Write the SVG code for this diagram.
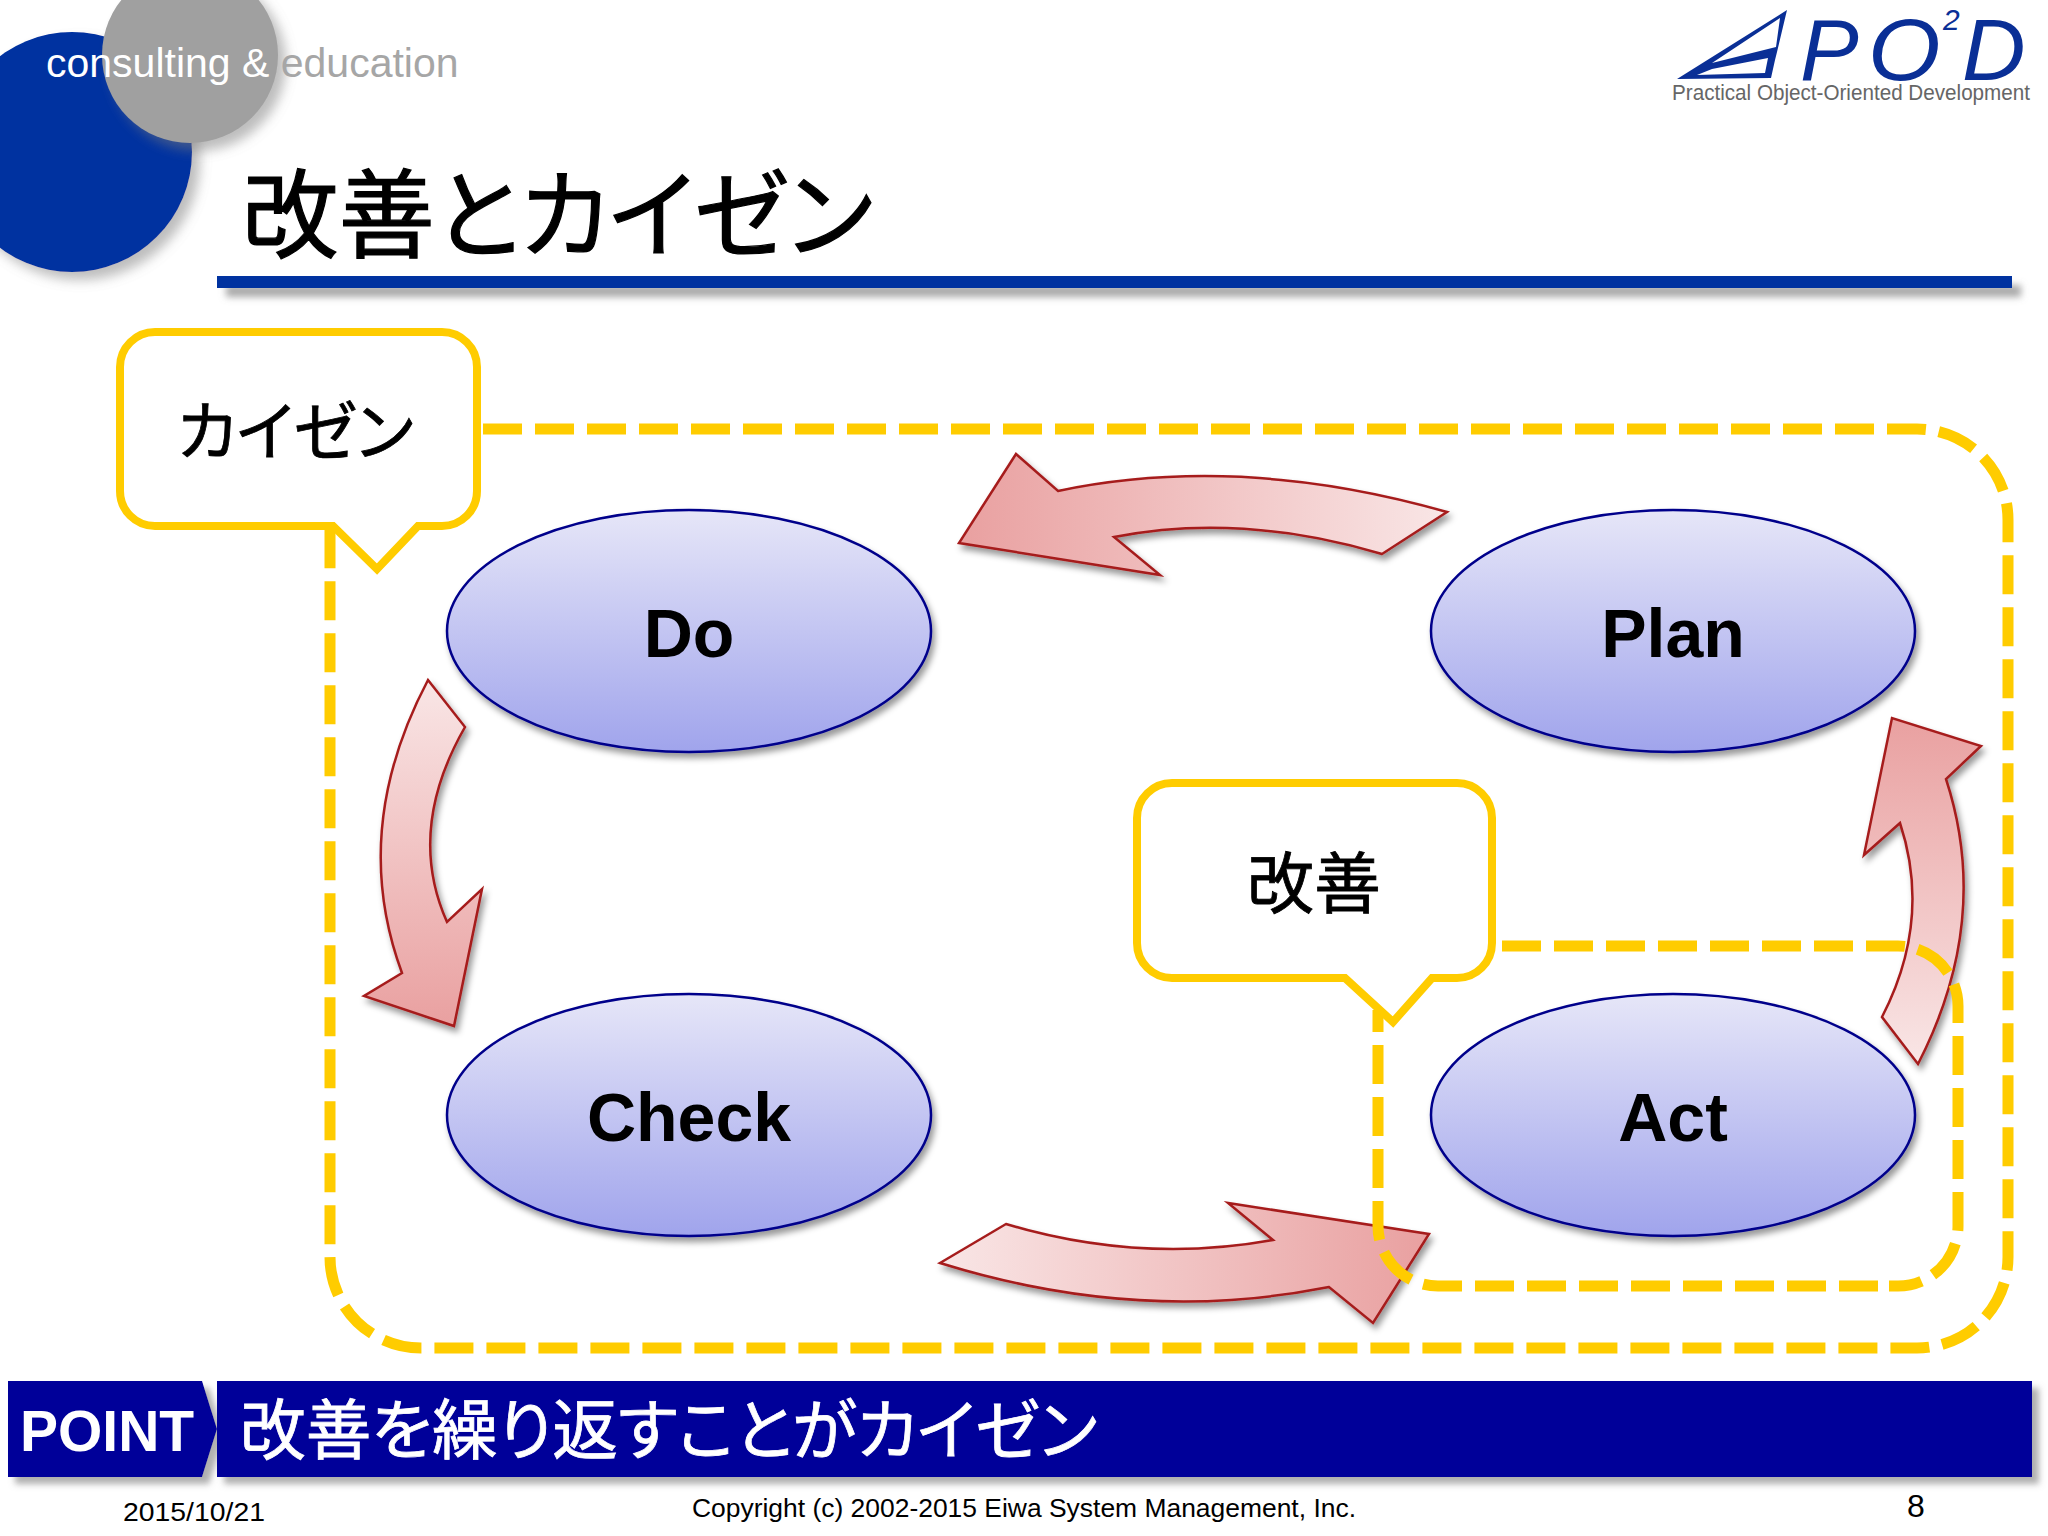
<svg xmlns="http://www.w3.org/2000/svg" width="2048" height="1536" viewBox="0 0 2048 1536">
<style>
.sans{font-family:"Liberation Sans",Arial,sans-serif}
.cjk{font-family:"Noto Sans CJK JP","Liberation Sans",sans-serif;font-feature-settings:"palt" 1}
.logoL{font-family:"Liberation Sans",Arial,sans-serif;font-style:italic;fill:#0a2f96}
.node{fill:url(#ng);stroke:#00008b;stroke-width:2.5;filter:url(#sh)}
.nlabel{font-family:"Liberation Sans",Arial,sans-serif;font-weight:bold;font-size:68px;text-anchor:middle;fill:#000}
.arrow{stroke:#a61c1c;stroke-width:2.5;filter:url(#sh)}
.dash{fill:none;stroke:#ffcc00;stroke-width:11;stroke-dasharray:39 13}
.call{fill:#fff;stroke:#ffcc00;stroke-width:8;stroke-linejoin:miter}
.bar{fill:#000099;filter:url(#sh2)}
.foot{font-family:"Liberation Sans",Arial,sans-serif;font-size:26px;fill:#000}
</style>
<defs>
<linearGradient id="ng" x1="0" y1="0" x2="0" y2="1"><stop offset="0" stop-color="#e6e6f8"/><stop offset="1" stop-color="#a0a4ec"/></linearGradient>
<linearGradient id="a1" gradientUnits="userSpaceOnUse" x1="1447" y1="0" x2="959" y2="0"><stop offset="0" stop-color="#f9e6e6"/><stop offset="1" stop-color="#e9a0a0"/></linearGradient>
<linearGradient id="a2" gradientUnits="userSpaceOnUse" x1="0" y1="680" x2="0" y2="1026"><stop offset="0" stop-color="#f9e6e6"/><stop offset="1" stop-color="#e9a0a0"/></linearGradient>
<linearGradient id="a3" gradientUnits="userSpaceOnUse" x1="940" y1="0" x2="1429" y2="0"><stop offset="0" stop-color="#f9e6e6"/><stop offset="1" stop-color="#e9a0a0"/></linearGradient>
<linearGradient id="a4" gradientUnits="userSpaceOnUse" x1="0" y1="1064" x2="0" y2="718"><stop offset="0" stop-color="#f9e6e6"/><stop offset="1" stop-color="#e9a0a0"/></linearGradient>
<filter id="sh" x="-10%" y="-10%" width="125%" height="130%"><feGaussianBlur in="SourceAlpha" stdDeviation="3"/><feOffset dx="3" dy="5"/><feColorMatrix values="0 0 0 0 0 0 0 0 0 0 0 0 0 0 0 0 0 0 .4 0"/><feMerge><feMergeNode/><feMergeNode in="SourceGraphic"/></feMerge></filter>
<filter id="sh2" x="-5%" y="-30%" width="110%" height="170%"><feGaussianBlur in="SourceAlpha" stdDeviation="3"/><feOffset dx="7" dy="7"/><feColorMatrix values="0 0 0 0 .2 0 0 0 0 .2 0 0 0 0 .2 0 0 0 .6 0"/><feMerge><feMergeNode/><feMergeNode in="SourceGraphic"/></feMerge></filter>
<filter id="sh3" x="-20%" y="-20%" width="150%" height="150%"><feGaussianBlur in="SourceAlpha" stdDeviation="6"/><feOffset dx="8" dy="8"/><feColorMatrix values="0 0 0 0 .2 0 0 0 0 .2 0 0 0 0 .2 0 0 0 .5 0"/><feMerge><feMergeNode/><feMergeNode in="SourceGraphic"/></feMerge></filter>
<filter id="sh4" filterUnits="userSpaceOnUse" x="200" y="260" width="1848" height="60"><feGaussianBlur in="SourceAlpha" stdDeviation="3.5"/><feOffset dx="9" dy="9"/><feColorMatrix values="0 0 0 0 .2 0 0 0 0 .2 0 0 0 0 .2 0 0 0 .65 0"/><feMerge><feMergeNode/><feMergeNode in="SourceGraphic"/></feMerge></filter>
</defs>
<rect width="2048" height="1536" fill="#fff"/>

<g id="header">
<circle cx="72" cy="152" r="120" fill="#0033a0" filter="url(#sh3)"/>
<circle cx="190" cy="55" r="88" fill="#a0a0a0" filter="url(#sh3)"/>
<text class="sans" x="46" y="77" font-size="41" fill="#fff">consulting &amp; <tspan fill="#a6a6a6">education</tspan></text>
<text class="cjk" x="242" y="250" font-size="96.4" fill="#000" stroke="#000" stroke-width="1.2">改善とカイゼン</text>
<rect x="217" y="276" width="1795" height="12" fill="#0033a0" filter="url(#sh4)"/>
</g>

<g id="logo">
<path fill="#0a2f96" fill-rule="evenodd" d="M1677,79 L1787,10 L1777,52 L1775,60 L1771,78 Z M1712,63 L1780,18 L1776,47 Z M1712,69 L1768,58 L1765,73 L1697,75 Z"/>
<text class="logoL" font-size="88" x="1800" y="80">P</text>
<text class="logoL" font-size="88" transform="translate(1868,80) scale(1.06,1)">O</text>
<text class="logoL" font-size="30" x="1943" y="30">2</text>
<text class="logoL" font-size="88" x="1962" y="80">D</text>
<text class="sans" x="1672" y="100" font-size="22" fill="#666" textLength="358" lengthAdjust="spacingAndGlyphs">Practical Object-Oriented Development</text>
</g>

<g id="node-do"><ellipse class="node" cx="689" cy="631" rx="242" ry="121"/><text class="nlabel" x="689" y="657">Do</text></g>
<g id="node-plan"><ellipse class="node" cx="1673" cy="631" rx="242" ry="121"/><text class="nlabel" x="1673" y="657">Plan</text></g>
<g id="node-check"><ellipse class="node" cx="689" cy="1115" rx="242" ry="121"/><text class="nlabel" x="689" y="1141">Check</text></g>
<g id="node-act"><ellipse class="node" cx="1673" cy="1115" rx="242" ry="121"/><text class="nlabel" x="1673" y="1141">Act</text></g>

<g id="connectors">
<path class="arrow" fill="url(#a1)" d="M1447,512 L1382,554 Q1240,512 1114,537 L1160,575 L959,543 L1016,454 L1058,491 Q1240,453 1447,512 Z"/>
<path class="arrow" fill="url(#a2)" d="M428,680 L465,727 Q406,830 447,922 L482,889 L454,1026 L364,996 L402,973 Q349,830 428,680 Z"/>
<path class="arrow" fill="url(#a3)" d="M940,1263 L1006,1224 Q1140,1264 1273,1240 L1228,1203 L1429,1234 L1373,1323 L1329,1287 Q1140,1325 940,1263 Z"/>
<path class="arrow" fill="url(#a4)" d="M1918,1064 Q1992,920 1946,779 L1981,746 L1892,718 L1864,855 L1900,823 Q1932,920 1882,1017 Z"/>
<path class="dash" d="M483,429 L1917,429 A91,91 0 0 1 2008,520 L2008,1257 A91,91 0 0 1 1917,1348 L421,1348 A91,91 0 0 1 330,1257 L330,526"/>
<path class="dash" d="M1502,946 L1898,946 A60,60 0 0 1 1958,1006 L1958,1226 A60,60 0 0 1 1898,1286 L1889,1286 M1878,1286 L1438,1286 A60,60 0 0 1 1378,1226 L1378,1010"/>
</g>

<g id="callout-kaizen">
<path class="call" d="M155,332 H442 A35,35 0 0 1 477,367 V491 A35,35 0 0 1 442,526 H418 L377,569 L333,526 H155 A35,35 0 0 1 120,491 V367 A35,35 0 0 1 155,332 Z"/>
<text class="cjk" x="177" y="455" font-size="64.5" fill="#000" stroke="#000" stroke-width=".8">カイゼン</text>
</g>
<g id="callout-kaizen-kanji">
<path class="call" d="M1172,783 H1457 A35,35 0 0 1 1492,818 V943 A35,35 0 0 1 1457,978 H1432 L1393,1022 L1345,978 H1172 A35,35 0 0 1 1137,943 V818 A35,35 0 0 1 1172,783 Z"/>
<text class="cjk" x="1247" y="908" font-size="67" fill="#000" stroke="#000" stroke-width=".8">改善</text>
</g>

<g id="point">
<path class="bar" d="M8,1381 H202 L217,1429 L202,1477 H8 Z"/>
<rect class="bar" x="217" y="1381" width="1815" height="96"/>
<text class="sans" x="20" y="1451" font-size="57" font-weight="bold" fill="#fff">POINT</text>
<text class="cjk" x="240" y="1454" font-size="65.7" fill="#fff" stroke="#fff" stroke-width=".8">改善を繰り返すことがカイゼン</text>
</g>

<g id="footer">
<text class="foot" x="123" y="1521" textLength="142" lengthAdjust="spacingAndGlyphs">2015/10/21</text>
<text class="foot" x="692" y="1517" textLength="664" lengthAdjust="spacingAndGlyphs">Copyright (c) 2002-2015 Eiwa System Management, Inc.</text>
<text class="foot" x="1907" y="1517" style="font-size:32px">8</text>
</g>
</svg>
